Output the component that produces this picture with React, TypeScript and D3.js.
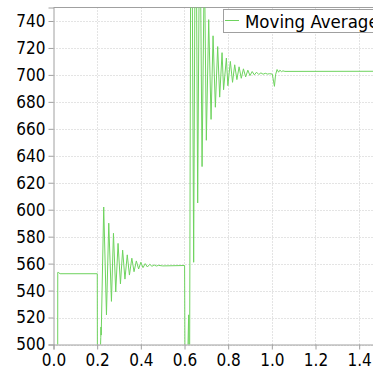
import React, { useEffect, useRef } from 'react';
import * as d3 from 'd3';

// time (s) and moving average value
const timeS = [
  0, 0.0175, 0.0195, 0.022, 0.03, 0.2,
  0.2005, 0.2015, 0.21, 0.2165, 0.2175, 0.2185, 0.23, 0.2426, 0.2531, 0.2654, 0.2746, 0.2851,
  0.2957, 0.3066, 0.3167, 0.3272, 0.3378, 0.3478, 0.3588, 0.3689, 0.3794, 0.3899, 0.4, 0.41,
  0.42, 0.43, 0.441, 0.451, 0.461, 0.471, 0.481, 0.5, 0.6,
  0.6005, 0.6035, 0.612, 0.619, 0.6205, 0.623, 0.6305, 0.642, 0.651, 0.6604, 0.67, 0.6805,
  0.691, 0.7, 0.7108, 0.7217, 0.7308, 0.7414, 0.752, 0.7611, 0.772, 0.779, 0.7918, 0.7986,
  0.81, 0.82, 0.83, 0.84, 0.85, 0.86, 0.87, 0.88, 0.89, 0.9, 0.91, 0.92, 0.93, 0.94, 0.95,
  0.96, 0.97, 0.98, 0.99, 1.002, 1.012, 1.017, 1.024, 1.031, 1.037, 1.044, 1.051, 1.06, 1.5,
];
const movingAverage = [
  0, 0, 553.5, 553.5, 552.5, 552.5,
  552.5, 440, 470, 505, 513, 507, 602, 522, 590, 532, 582.5, 539,
  575, 545, 570, 548.5, 566.5, 551.5, 564, 554, 562, 556, 561, 557,
  560, 557.5, 559.5, 558, 559, 558.2, 558.7, 558.3, 558.6,
  558.6, 430, 470, 522, 490, 460, 930, 561, 890, 605, 840, 632,
  790, 651.5, 741, 667, 729, 676, 721, 683.5, 716.5, 689, 712.5, 692,
  710, 694.5, 707.5, 696.5, 706, 697.5, 704.5, 698.5, 703.5, 699.5, 702.5, 700, 702, 700.3, 701.5,
  700.5, 701.2, 700.6, 700.9, 700.6, 691.5, 700, 704, 702, 703.5, 702.4, 703, 702.6, 702.7,
];
const xTicks = [0, 0.2, 0.4, 0.6, 0.8, 1.0, 1.2, 1.4];
const yTicks = [500, 520, 540, 560, 580, 600, 620, 640, 660, 680, 700, 720, 740];
const seriesName = 'Moving Average';

const FONT = '"DejaVu Sans Condensed", "DejaVu Sans", sans-serif';
const LINE = '#6ed35e';
const FRAME = '#a0a0a0';

const App: React.FC = () => {
  const ref = useRef<SVGSVGElement | null>(null);

  useEffect(() => {
    const svg = d3.select(ref.current);
    svg.selectAll('*').remove();

    const left = 53.5, right = 381, top = 7.5, bottom = 344.5;
    const x = d3.scaleLinear().domain([0, 1.5]).range([left, right]);
    const y = d3.scaleLinear().domain([500, 750]).range([bottom, top]);

    svg.append('rect').attr('width', 373).attr('height', 369).attr('fill', 'white');

    svg.append('clipPath').attr('id', 'plot-clip')
      .append('rect')
      .attr('x', left).attr('y', top)
      .attr('width', right - left).attr('height', bottom - top);

    // dotted grid
    const grid = svg.append('g').attr('stroke', '#c8c8c8').attr('stroke-dasharray', '1,2');
    xTicks.filter(t => t > 0).forEach(t => {
      grid.append('line')
        .attr('x1', Math.round(x(t)) + 0.5).attr('x2', Math.round(x(t)) + 0.5)
        .attr('y1', top).attr('y2', bottom);
    });
    yTicks.forEach(t => {
      grid.append('line')
        .attr('x1', left).attr('x2', right)
        .attr('y1', Math.round(y(t)) + 0.5).attr('y2', Math.round(y(t)) + 0.5);
    });

    // top frame
    svg.append('line')
      .attr('x1', left).attr('x2', right)
      .attr('y1', top).attr('y2', top)
      .attr('stroke', FRAME);

    const line = d3.line<number>()
      .x((_, i) => x(timeS[i]))
      .y(d => y(d));

    svg.append('path')
      .datum(movingAverage)
      .attr('clip-path', 'url(#plot-clip)')
      .attr('fill', 'none')
      .attr('stroke', LINE)
      .attr('stroke-width', 1)
      .attr('d', line);

    const yAxis = svg.append('g')
      .attr('transform', `translate(${left},0)`)
      .call(d3.axisLeft(y).tickValues(yTicks).tickSize(5).tickPadding(3).tickFormat(d3.format('d')));
    yAxis.select('.domain').attr('stroke', FRAME);
    yAxis.selectAll('.tick line').attr('stroke', FRAME);
    yAxis.selectAll('text')
      .style('font-family', FONT).style('font-size', '17px').attr('fill', '#000');

    const xAxis = svg.append('g')
      .attr('transform', `translate(0,${bottom})`)
      .call(d3.axisBottom(x).tickValues(xTicks).tickSize(5).tickPadding(4).tickFormat(d3.format('.1f')));
    xAxis.select('.domain').attr('stroke', FRAME);
    xAxis.selectAll('.tick line').attr('stroke', FRAME);
    xAxis.selectAll('text')
      .style('font-family', FONT).style('font-size', '17px').attr('fill', '#000');

    // legend
    const legend = svg.append('g').attr('transform', 'translate(223,9)');
    legend.append('rect')
      .attr('x', 0.5).attr('y', 0.5)
      .attr('width', 200).attr('height', 23)
      .attr('fill', 'white').attr('stroke', FRAME);
    legend.append('line')
      .attr('x1', 2).attr('x2', 16)
      .attr('y1', 11.5).attr('y2', 11.5)
      .attr('stroke', LINE);
    legend.append('text')
      .attr('x', 22).attr('y', 18.5)
      .style('font-family', FONT).style('font-size', '18.5px')
      .attr('fill', '#000')
      .text(seriesName);
  }, []);

  return (
    <div style={{ position: 'absolute', left: 0, top: 0 }}>
      <svg ref={ref} width={373} height={369} style={{ display: 'block' }} />
    </div>
  );
};

export default App;
